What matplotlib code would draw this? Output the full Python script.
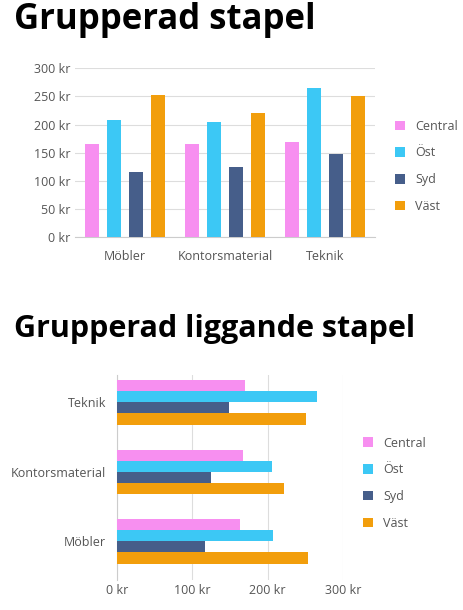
import matplotlib
matplotlib.use("Agg")
import matplotlib.pyplot as plt
import numpy as np

categories = ["Möbler", "Kontorsmaterial", "Teknik"]
series = ["Central", "Öst", "Syd", "Väst"]
central = [165, 166, 170]
ost = [208, 204, 265]
syd = [116, 125, 148]
vast = [253, 221, 251]
# horizontal chart values (Möbler, Kontorsmaterial, Teknik)
h_central = [163, 167, 170]
h_ost = [207, 205, 265]
h_syd = [116, 124, 148]
h_vast = [253, 221, 251]
colors = ["#F78FF0", "#3CC8F5", "#465E8A", "#F29E0C"]

plt.rcParams['font.family'] = ['Open Sans', 'DejaVu Sans']
fig = plt.figure(figsize=(4.63, 6.10), dpi=100)
tc = "#555555"

fig.text(0.03, 0.968, "Grupperad stapel", fontsize=25, fontweight='bold', va='center')
fig.text(0.03, 0.46, "Grupperad liggande stapel", fontsize=22, fontweight='bold', va='center')

ax = fig.add_axes([0.162, 0.611, 0.648, 0.277])
x = np.arange(3)
step, w = 0.22, 0.14
for i, (s, v) in enumerate(zip(series, [central, ost, syd, vast])):
    ax.bar(x + (i - 1.5) * step, v, w, color=colors[i], label=s, zorder=3)
ax.set_xlim(-0.5, 2.5)
ax.set_ylim(0, 300)
ax.set_yticks(range(0, 301, 50))
ax.set_yticklabels([f"{t} kr" for t in range(0, 301, 50)])
ax.set_xticks(x)
ax.set_xticklabels(categories)
ax.grid(axis='y', color='#dddddd', zorder=0)
for sp in ['top', 'right', 'left']:
    ax.spines[sp].set_visible(False)
ax.spines['bottom'].set_color('#cccccc')
ax.tick_params(length=0, colors=tc, labelsize=9)
ax.tick_params(axis='x', pad=9)
ax.legend(loc='center left', bbox_to_anchor=(1.03, 0.42), frameon=False,
          fontsize=9, handlelength=0.8, handleheight=0.8, labelspacing=1.1,
          labelcolor=tc)

ax2 = fig.add_axes([0.253, 0.05, 0.488, 0.336])
y = np.arange(3)
hstep, hw = 0.16, 0.16
for i, (s, v) in enumerate(zip(series, [h_central, h_ost, h_syd, h_vast])):
    ax2.barh(y + (1.5 - i) * hstep, v, hw, color=colors[i], label=s, zorder=3)
ax2.set_xlim(0, 300)
ax2.set_ylim(-0.55, 2.4)
ax2.set_xticks(range(0, 301, 100))
ax2.set_xticklabels([f"{t} kr" for t in range(0, 301, 100)])
ax2.set_yticks(y)
ax2.set_yticklabels(categories)
ax2.grid(axis='x', color='#dddddd', zorder=0)
for sp in ['top', 'right', 'bottom']:
    ax2.spines[sp].set_visible(False)
ax2.spines['left'].set_color('#cccccc')
ax2.tick_params(length=0, colors=tc, labelsize=9)
ax2.tick_params(axis='y', pad=8)
ax2.legend(loc='center left', bbox_to_anchor=(1.04, 0.47), frameon=False,
           fontsize=9, handlelength=0.8, handleheight=0.8, labelspacing=1.1,
           labelcolor=tc)

fig.savefig("out.png", dpi=100)
